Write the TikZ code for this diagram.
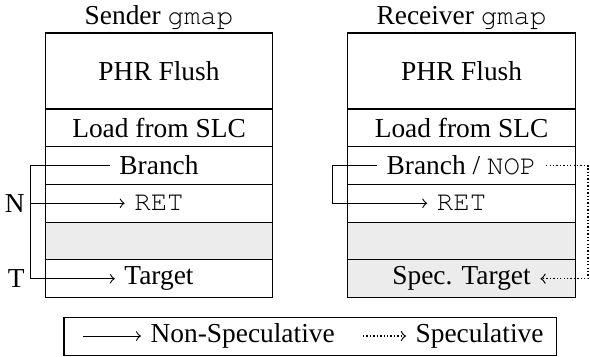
\documentclass[tikz,border=0pt]{standalone}
\usepackage{fontspec}
\setmainfont{Liberation Serif}
\setmonofont{TeX Gyre Cursor}
\usetikzlibrary{positioning}

\tikzset{
  slot/.style = {draw, minimum width=2.916cm, minimum height=0.4837cm, inner sep=0pt, outer sep=0pt},
  bigslot/.style = {slot, minimum height=0.975cm},
  greyslot/.style = {fill=gray!15},
  title/.style = {inner sep=1pt},
  side/.style = {inner sep=0pt},
  specline/.style = {dash pattern=on 0.5pt off 0.75pt, line width=0.45pt},
}

\begin{document}
\begin{tikzpicture}
\useasboundingbox (0,0) rectangle (7.569,-4.567);

% sender
\node[bigslot] (s-phr) at (2.04,-0.911) {PHR Flush};
\node[slot, below=0pt of s-phr] (s-load) {Load from SLC};
\node[slot, below=0pt of s-load] (s-br) {};
\node[slot, below=0pt of s-br] (s-ret) {};
\node[slot, greyslot, below=0pt of s-ret] (s-gap) {};
\node[slot, below=0pt of s-gap] (s-tgt) {};
\node (s-br-t) at (s-br) {Branch};
\node (s-ret-t) at (s-ret) {\texttt{RET}};
\node (s-tgt-t) at (s-tgt) {Target};
\node[title, above=0pt of s-phr] (s-title) {Sender \texttt{gmap}};

% receiver
\node[bigslot] (r-phr) at (5.921,-0.911) {PHR Flush};
\node[slot, below=0pt of r-phr] (r-load) {Load from SLC};
\node[slot, below=0pt of r-load] (r-br) {};
\node[slot, below=0pt of r-br] (r-ret) {};
\node[slot, greyslot, below=0pt of r-ret] (r-gap) {};
\node[slot, greyslot, below=0pt of r-gap] (r-tgt) {};
\node (r-br-t) at (r-br) {Branch / \texttt{NOP}};
\node (r-ret-t) at (r-ret) {\texttt{RET}};
\node (r-tgt-t) at (r-tgt) {Spec. Target};
\node[title, above=0pt of r-phr] (r-title) {Receiver \texttt{gmap}};

% sender branch
\coordinate (s-x) at (0.394,0);
\coordinate (s-n) at (s-x |- s-ret);
\coordinate (s-t) at (s-x |- s-tgt);
\draw[->] (s-br-t.west) -| (s-t) -- (s-tgt-t.west);
\draw[->] (s-n) -- (s-ret-t.west);
\node[side, left=2pt of s-n] (s-n-lbl) {N};
\node[side, left=2pt of s-t] (s-t-lbl) {T};

% receiver branch
\coordinate (r-x) at (4.268,0);
\coordinate (r-n) at (r-x |- r-ret);
\draw[->] (r-br-t.west) -| (r-n) -- (r-ret-t.west);
\coordinate (r-y) at (7.543,0);
\coordinate (r-s) at (r-y |- r-tgt);
\draw[->, specline] (r-br-t.east) -| (r-s) -- (r-tgt-t.east);

% legend
\node[draw, minimum width=6.318cm, minimum height=0.4875cm, inner sep=0pt] (key) at (3.98,-4.311) {};
\coordinate (key-a) at (1.065,-4.311);
\node[anchor=west] (key-ns) at (1.808,-4.311) {Non-Speculative};
\draw[->] (key-a) -- (key-ns.west);
\coordinate (key-b) at (4.657,-4.311);
\node[anchor=west] (key-s) at (5.208,-4.311) {Speculative};
\draw[->, specline] (key-b) -- (key-s.west);
\end{tikzpicture}
\end{document}
